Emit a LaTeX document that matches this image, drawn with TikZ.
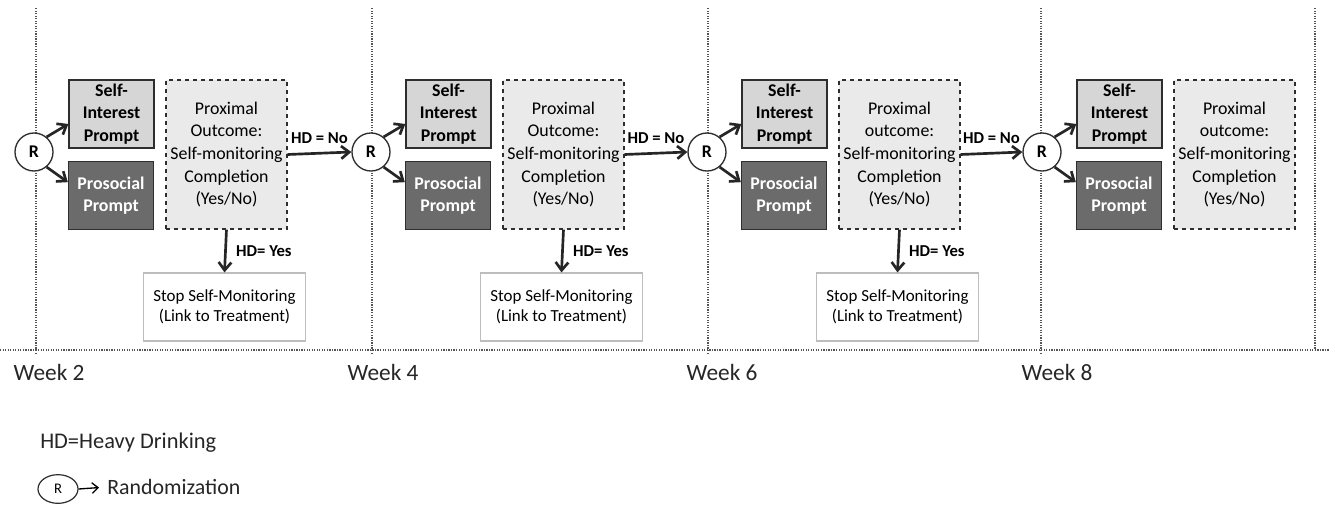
\documentclass[tikz,border=0pt]{standalone}
\usepackage{fontspec}
\setmainfont{Carlito}
\usepackage{tikz}
\usetikzlibrary{shapes.geometric,arrows.meta}
\usepackage{xcolor}
\definecolor{silite}{HTML}{D6D6D6}
\definecolor{prodark}{HTML}{6B6B6B}
\definecolor{proxgray}{HTML}{EAEAEA}
\definecolor{stopline}{HTML}{BDBDBD}
\definecolor{edgegray}{HTML}{2E2E2E}
\definecolor{dotgray}{HTML}{555555}
\newcommand{\boxfont}{\fontsize{13.4}{16.9}\selectfont}
\newcommand{\stopfont}{\fontsize{12.7}{15}\selectfont}

\begin{document}
\begin{tikzpicture}[x=0.75pt,y=-0.75pt]
    \tikzset{
        randnode/.style={draw=edgegray,circle,line width=1pt,fill=white,
            minimum size=28.5pt,inner sep=0pt,font=\fontsize{13.4}{16}\selectfont\bfseries},
        sibox/.style={draw=edgegray,line width=1pt,fill=silite,minimum width=63.75pt,
            minimum height=51pt,inner sep=0pt,align=center,font=\boxfont\bfseries},
        probox/.style={sibox,fill=prodark,text=white},
        proxbox/.style={draw=edgegray,dashed,line width=0.8pt,fill=proxgray,
            minimum width=90.75pt,minimum height=111.75pt,inner sep=0pt,
            align=center,font=\boxfont},
        stopbox/.style={draw=stopline,line width=0.9pt,fill=white,minimum width=122pt,
            minimum height=51pt,inner sep=0pt,align=center,font=\stopfont},
        flow/.style={draw=black!85,line width=2pt,-{Straight Barb[length=6pt,width=9.5pt]}},
        hdlabel/.style={font=\fontsize{12.5}{15}\selectfont\bfseries,inner sep=2pt},
        weekline/.style={dotgray,densely dotted,line width=0.9pt},
        weeklabel/.style={font=\fontsize{17.5}{20}\selectfont,text=black!85}
    }
    \useasboundingbox[fill=white] (0,0) rectangle (1329,504);
    % week grid
    \draw[weekline] (0,350) -- (1329,350);
    \foreach \x in {36,372,708,1041}
        \draw[weekline] (\x,8) -- (\x,355);
    \draw[weekline] (1315,8) -- (1315,350);
    \foreach \x/\w in {49/2,383/4,722/6,1057/8}
        \node[weeklabel] (week\w) at (\x,372) {Week \w};
    % randomization and prompts
    \foreach \b/\i in {34/1,371/2,707/3,1042/4} {
        \node[randnode] (r\i) at (\b,152) {R};
        \node[sibox] (si\i) at (\b+77.5,114) {Self-\\Interest\\Prompt};
        \node[probox] (pro\i) at (\b+77,195.5) {Prosocial\\Prompt};
        \draw[flow] (r\i.50) -- ([yshift=-7.5pt]si\i.west);
        \draw[flow] (r\i.-50) -- ([yshift=10pt]pro\i.west);
    }
    % proximal outcome
    \foreach \b/\i/\o in {34/1/Outcome,371/2/Outcome,707/3/outcome,1042/4/outcome}
        \node[proxbox] (prox\i) at (\b+192.5,154.5)
            {Proximal\\\o:\\Self-monitoring\\Completion\\(Yes/No)};
    % stop boxes
    \foreach \b/\i in {34/1,371/2,707/3} {
        \node[stopbox] (stop\i) at (\b+190.5,307)
            {Stop Self-Monitoring\\(Link to Treatment)};
        \draw[flow] (prox\i.south) -- node[hdlabel,right=5pt] {HD= Yes} (stop\i.north);
    }
    \foreach \i/\j in {1/2,2/3,3/4}
        \draw[flow] (prox\i.east) -- node[hdlabel,above=4pt] {HD = No} (r\j.west);
    % legend
    \node[anchor=west,inner sep=0pt,font=\fontsize{16.8}{20}\selectfont,text=black!85]
        (hdkey) at (40,443) {HD=Heavy Drinking};
    \node[draw=edgegray,ellipse,line width=0.9pt,minimum width=30pt,minimum height=21.5pt,
        inner sep=0pt,font=\fontsize{11}{13}\selectfont] (rkey) at (58,489) {R};
    \node[anchor=west,inner sep=0pt,font=\fontsize{16.4}{20}\selectfont,text=black!85]
        (randkey) at (107,487) {Randomization};
    \draw[line width=1pt,-{Straight Barb[length=4.5pt,width=8pt]},shorten >=6pt]
        (rkey.east) -- (randkey.west);
\end{tikzpicture}
\end{document}
